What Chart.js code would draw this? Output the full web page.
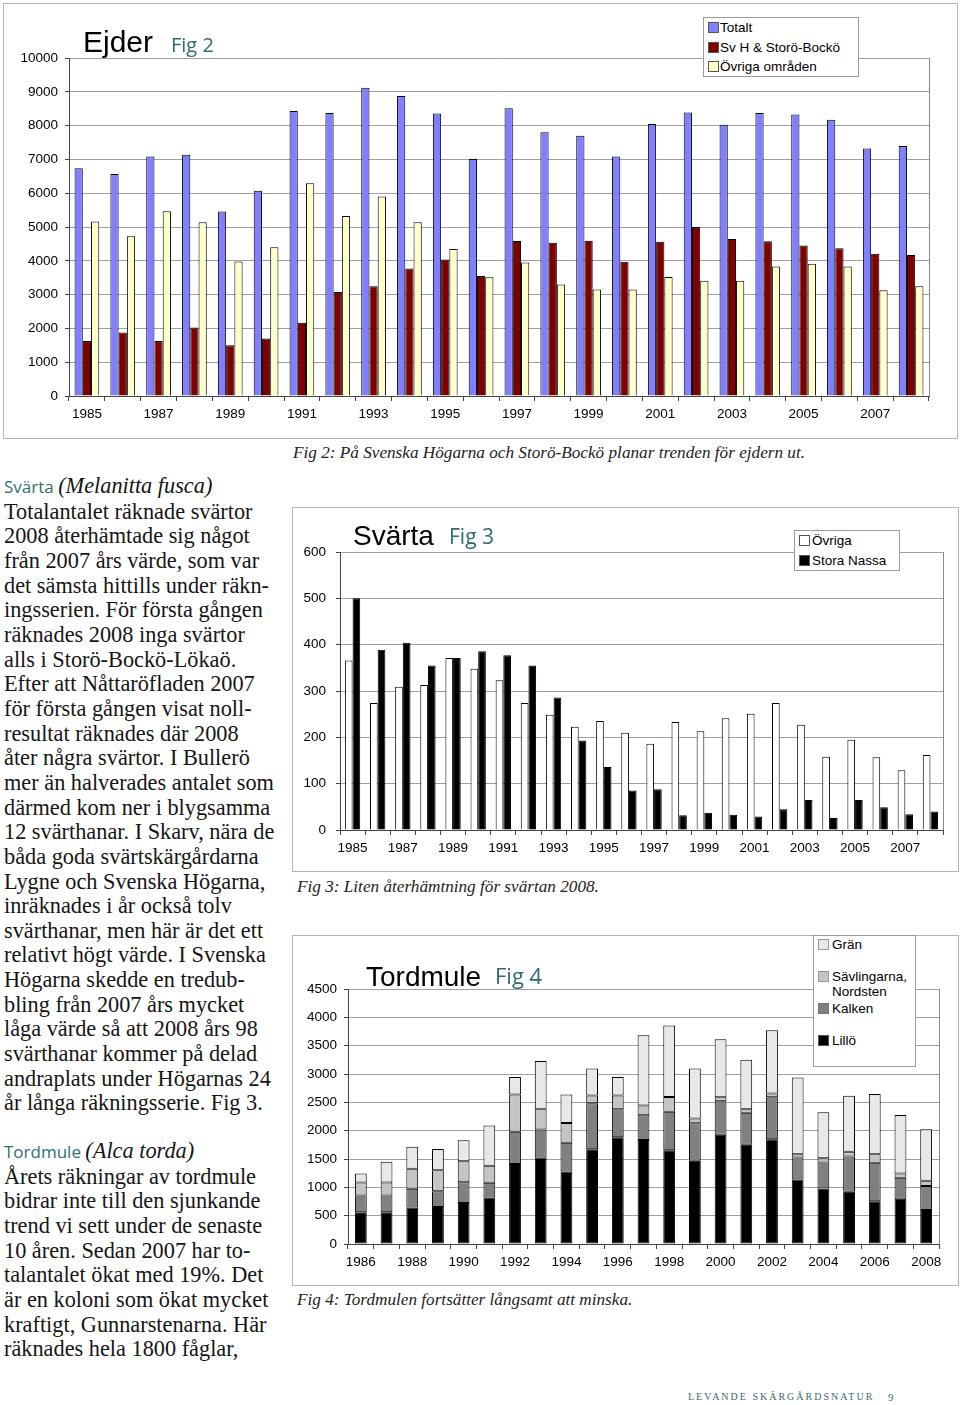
<!DOCTYPE html>
<html>
<head>
<meta charset="utf-8">
<script src="https://cdn.jsdelivr.net/npm/chart.js@4"></script>
<style>
  body { margin: 0; width: 960px; height: 1405px; background: #fff; position: relative; overflow: hidden; }
  .box { position: absolute; border: 1px solid #b4b4b4; background: #fff; }
  .box canvas { display: block; }
  .abs { position: absolute; white-space: nowrap; }
  .ctitle { font-family: "Liberation Sans", Arial, sans-serif; color: #000; }
  .cfig { font-family: "Open Sans", sans-serif; color: #2e6b6b; }
  .legend { position: absolute; border: 1px solid #9a9a9a; background: #fff;
            font-family: "Liberation Sans", Arial, sans-serif; font-size: 13.5px; color: #000; }
  .legend .sw { position: absolute; width: 9px; height: 9px; border: 1px solid #555; }
  .legend .lt { position: absolute; white-space: nowrap; line-height: 15px; }
  .caption { font-family: "Liberation Serif", serif; font-style: italic; font-size: 17.2px; color: #222; }
  .body { font-family: "Liberation Serif", serif; font-size: 22.3px; line-height: 24.65px; color: #151515; }
  .head { font-family: "Open Sans", sans-serif; font-size: 17px; color: #2e7070; }
  .head i { font-family: "Liberation Serif", serif; font-size: 22.3px; color: #151515; }
  .footer { font-family: "Liberation Serif", serif; font-size: 10px; letter-spacing: 2.0px; color: #3a6a6a; }
</style>
</head>
<body>

<!-- Fig 2 Ejder -->
<div class="box" style="left:3px; top:3px; width:953px; height:434px;">
  <canvas id="ejder" width="953" height="434"></canvas>
</div>
<div class="abs ctitle" style="left:83px; top:25px; font-size:30px;">Ejder</div>
<div class="abs cfig" style="left:171px; top:31px; font-size:20px;">Fig 2</div>
<div class="legend" style="left:703px; top:17px; width:154px; height:58px;">
  <div class="sw" style="left:4px; top:4px; background:#8080ff;"></div><div class="lt" style="left:16px; top:2px;">Totalt</div>
  <div class="sw" style="left:4px; top:24px; background:#800000;"></div><div class="lt" style="left:16px; top:22px;">Sv H &amp; Storö-Bockö</div>
  <div class="sw" style="left:4px; top:43px; background:#ffffcc;"></div><div class="lt" style="left:16px; top:41px;">Övriga områden</div>
</div>
<div class="abs caption" style="left:293px; top:443px;">Fig 2: På Svenska Högarna och Storö-Bockö planar trenden för ejdern ut.</div>

<!-- Fig 3 Svärta -->
<div class="box" style="left:292px; top:507px; width:665px; height:363px;">
  <canvas id="svarta" width="665" height="363"></canvas>
</div>
<div class="abs ctitle" style="left:353px; top:520px; font-size:28px;">Svärta</div>
<div class="abs cfig" style="left:449px; top:522px; font-size:21px;">Fig 3</div>
<div class="legend" style="left:794px; top:530px; width:104px; height:39px;">
  <div class="sw" style="left:4px; top:4px; background:#fff;"></div><div class="lt" style="left:17px; top:2px;">Övriga</div>
  <div class="sw" style="left:4px; top:24px; background:#000;"></div><div class="lt" style="left:17px; top:22px;">Stora Nassa</div>
</div>
<div class="abs caption" style="left:297px; top:877px;">Fig 3: Liten återhämtning för svärtan 2008.</div>

<!-- Fig 4 Tordmule -->
<div class="box" style="left:292px; top:935px; width:665px; height:349px;">
  <canvas id="tordmule" width="665" height="349"></canvas>
</div>
<div class="abs ctitle" style="left:366px; top:961px; font-size:28px;">Tordmule</div>
<div class="abs cfig" style="left:495px; top:960px; font-size:22px;">Fig 4</div>
<div class="legend" style="left:813px; top:935px; width:101px; height:130px;">
  <div class="sw" style="left:4px; top:3px; background:#e8e8e8; border-color:#999;"></div><div class="lt" style="left:18px; top:1px;">Grän</div>
  <div class="sw" style="left:4px; top:35px; background:#c4c4c4; border-color:#999;"></div><div class="lt" style="left:18px; top:33px;">Sävlingarna,<br>Nordsten</div>
  <div class="sw" style="left:4px; top:67px; background:#808080; border-color:#777;"></div><div class="lt" style="left:18px; top:65px;">Kalken</div>
  <div class="sw" style="left:4px; top:99px; background:#000;"></div><div class="lt" style="left:18px; top:97px;">Lillö</div>
</div>
<div class="abs caption" style="left:297px; top:1290px;">Fig 4: Tordmulen fortsätter långsamt att minska.</div>

<!-- Text column -->
<div class="abs body" style="left:4px; top:474px;">
<span class="head">Svärta <i>(Melanitta fusca)</i></span><br>
Totalantalet räknade svärtor<br>
2008 återhämtade sig något<br>
från 2007 års värde, som var<br>
det sämsta hittills under räkn-<br>
ingsserien. För första gången<br>
räknades 2008 inga svärtor<br>
alls i Storö-Bockö-Lökaö.<br>
Efter att Nåttaröfladen 2007<br>
för första gången visat noll-<br>
resultat räknades där 2008<br>
åter några svärtor. I Bullerö<br>
mer än halverades antalet som<br>
därmed kom ner i blygsamma<br>
12 svärthanar. I Skarv, nära de<br>
båda goda svärtskärgårdarna<br>
Lygne och Svenska Högarna,<br>
inräknades i år också tolv<br>
svärthanar, men här är det ett<br>
relativt högt värde. I Svenska<br>
Högarna skedde en tredub-<br>
bling från 2007 års mycket<br>
låga värde så att 2008 års 98<br>
svärthanar kommer på delad<br>
andraplats under Högarnas 24<br>
år långa räkningsserie. Fig 3.
</div>
<div class="abs body" style="left:4px; top:1139px;">
<span class="head">Tordmule <i>(Alca torda)</i></span><br>
Årets räkningar av tordmule<br>
bidrar inte till den sjunkande<br>
trend vi sett under de senaste<br>
10 åren. Sedan 2007 har to-<br>
talantalet ökat med 19%. Det<br>
är en koloni som ökat mycket<br>
kraftigt, Gunnarstenarna. Här<br>
räknades hela 1800 fåglar,
</div>

<div class="abs footer" style="left:688px; top:1391px;">LEVANDE SKÄRGÅRDSNATUR</div>
<div class="abs footer" style="left:888px; top:1391px; font-size:11px;">9</div>

<script>
// Ejder (Fig 2)
const ejderYears = ['1985','1986','1987','1988','1989','1990','1991','1992','1993','1994','1995','1996',
                    '1997','1998','1999','2000','2001','2002','2003','2004','2005','2006','2007','2008'];
const ejderTotalt = [6740, 6570, 7085, 7135, 5455, 6070, 8430, 8370, 9120, 8875, 8360, 7015,
                     8510, 7800, 7700, 7085, 8045, 8390, 8025, 8370, 8330, 8170, 7320, 7400];
const ejderSvH = [1630, 1880, 1630, 2025, 1500, 1700, 2165, 3080, 3250, 3775, 4040, 3550,
                  4585, 4535, 4595, 3970, 4565, 5000, 4645, 4575, 4455, 4370, 4210, 4170];
const ejderOvriga = [5160, 4730, 5465, 5140, 3980, 4400, 6295, 5325, 5900, 5140, 4350, 3510,
                     3950, 3300, 3150, 3150, 3520, 3410, 3410, 3835, 3915, 3835, 3130, 3250];

// Svärta (Fig 3)
const svartaYears = ejderYears.slice();
const svartaOvriga = [366, 274, 309, 313, 371, 348, 323, 274, 249, 223, 235, 210,
                      186, 233, 213, 241, 251, 274, 227, 158, 195, 157, 129, 162];
const svartaNassa = [500, 389, 404, 355, 371, 386, 377, 355, 286, 193, 136, 85,
                     88, 32, 37, 33, 29, 45, 65, 26, 65, 49, 34, 40];

// Tordmule (Fig 4), stacked from the bottom
const tordYears = ['1986','1987','1988','1989','1990','1991','1992','1993','1994','1995','1996','1997',
                   '1998','1999','2000','2001','2002','2003','2004','2005','2006','2007','2008'];
const tordLillo = [560, 560, 645, 655, 725, 820, 1410, 1525, 1280, 1670, 1885, 1835,
                   1655, 1470, 1930, 1750, 1850, 1140, 980, 920, 755, 800, 600];
const tordKalken = [295, 295, 330, 275, 365, 260, 570, 495, 505, 815, 495, 435,
                    680, 660, 590, 565, 740, 385, 460, 625, 680, 370, 425];
const tordSav = [230, 230, 355, 370, 370, 300, 660, 360, 350, 135, 240, 175,
                 260, 85, 70, 65, 65, 60, 75, 85, 150, 75, 90];
const tordGran = [160, 365, 385, 375, 370, 710, 305, 850, 505, 475, 325, 1240,
                  1260, 880, 1025, 870, 1115, 1355, 810, 985, 1060, 1030, 910];

const AXIS_FONT = { family: '"Liberation Sans", Arial, sans-serif', size: 13.5 };

// right edge of the plot frame
const framePlugin = {
    id: 'frame',
    afterDraw(chart) {
        const { ctx, chartArea: a } = chart;
        ctx.save();
        ctx.strokeStyle = '#8c8c8c';
        ctx.lineWidth = 1;
        ctx.beginPath();
        ctx.moveTo(Math.round(a.right) + 0.5, a.top);
        ctx.lineTo(Math.round(a.right) + 0.5, a.bottom);
        ctx.stroke();
        ctx.restore();
    }
};

// shared scale setup, yWidth / xHeight fix the plot area
function makeScales(labels, yMax, yStep, yWidth, yPad, xHeight, stacked) {
    return {
        x: {
            stacked: stacked,
            offset: true,
            grid: { offset: true, drawOnChartArea: false, drawTicks: true, tickLength: 5, tickColor: '#444' },
            border: { color: '#444', width: 1 },
            ticks: {
                autoSkip: false, maxRotation: 0, padding: 5, color: '#000', font: AXIS_FONT,
                callback: (v, i) => (i % 2 === 0 ? labels[i] : '')
            },
            afterFit: s => { s.height = xHeight; }
        },
        y: {
            stacked: stacked,
            min: 0, max: yMax,
            grid: { color: '#a0a0a0', tickLength: 4, tickColor: '#444' },
            border: { color: '#444', width: 1 },
            ticks: { stepSize: yStep, padding: yPad, color: '#000', font: AXIS_FONT,
                     callback: v => String(v) },
            afterFit: s => { s.width = yWidth; }
        }
    };
}

function baseOptions(padding, scales) {
    return {
        responsive: false,
        animation: false,
        devicePixelRatio: 1,
        layout: { padding: padding },
        plugins: { legend: { display: false }, tooltip: { enabled: false } },
        scales: scales
    };
}

function renderEjder() {
    const common = { borderColor: '#000', borderWidth: 1, categoryPercentage: 0.69, barPercentage: 1 };
    new Chart(document.getElementById('ejder'), {
        type: 'bar',
        data: {
            labels: ejderYears,
            datasets: [
                { label: 'Totalt', data: ejderTotalt, backgroundColor: '#8080ff', ...common },
                { label: 'Sv H & Storö-Bockö', data: ejderSvH, backgroundColor: '#800000', ...common },
                { label: 'Övriga områden', data: ejderOvriga, backgroundColor: '#ffffcc', ...common }
            ]
        },
        options: baseOptions({ top: 54, right: 28, left: 0, bottom: 0 },
            makeScales(ejderYears, 10000, 1000, 65, 7, 42, false)),
        plugins: [framePlugin]
    });
}

function renderSvarta() {
    const common = { borderColor: '#000', borderWidth: 1, categoryPercentage: 0.61, barPercentage: 1 };
    new Chart(document.getElementById('svarta'), {
        type: 'bar',
        data: {
            labels: svartaYears,
            datasets: [
                { label: 'Övriga', data: svartaOvriga, backgroundColor: '#ffffff', ...common },
                { label: 'Stora Nassa', data: svartaNassa, backgroundColor: '#000000', ...common }
            ]
        },
        options: baseOptions({ top: 44, right: 15, left: 0, bottom: 0 },
            makeScales(svartaYears, 600, 100, 47, 10, 41, false)),
        plugins: [framePlugin]
    });
}

function renderTordmule() {
    const common = { borderColor: '#000', borderWidth: 1, borderSkipped: false, categoryPercentage: 0.46, barPercentage: 1 };
    new Chart(document.getElementById('tordmule'), {
        type: 'bar',
        data: {
            labels: tordYears,
            datasets: [
                { label: 'Lillö', data: tordLillo, backgroundColor: '#000000', ...common },
                { label: 'Kalken', data: tordKalken, backgroundColor: '#808080', ...common },
                { label: 'Sävlingarna, Nordsten', data: tordSav, backgroundColor: '#c4c4c4', ...common },
                { label: 'Grän', data: tordGran, backgroundColor: '#e8e8e8', ...common }
            ]
        },
        options: baseOptions({ top: 53, right: 19, left: 0, bottom: 0 },
            makeScales(tordYears, 4500, 500, 55, 7, 41, true)),
        plugins: [framePlugin]
    });
}

renderEjder();
renderSvarta();
renderTordmule();
</script>
</body>
</html>
